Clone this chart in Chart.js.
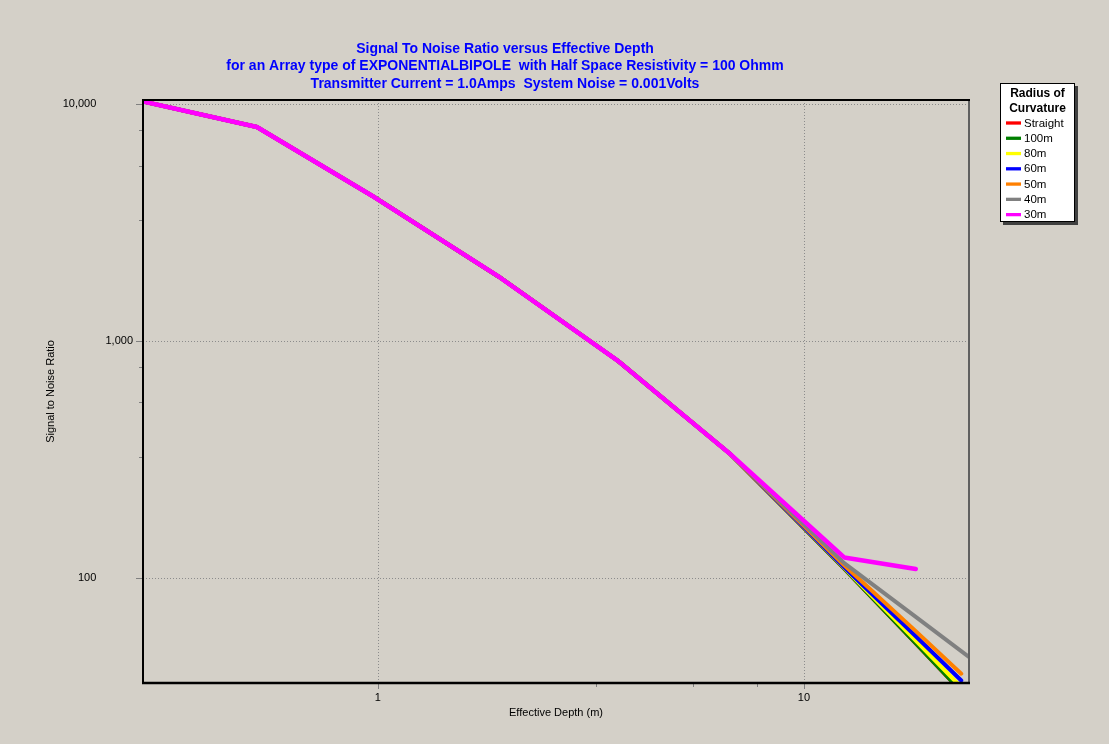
<!DOCTYPE html>
<html>
<head>
<meta charset="utf-8">
<script src="https://cdn.jsdelivr.net/npm/chart.js@4.4.1/dist/chart.umd.min.js"></script>
<style>
html,body{margin:0;padding:0;background:#D4D0C8;}
canvas{display:block;}
</style>
</head>
<body>
<canvas id="c" width="1109" height="744"></canvas>
<script>
// ---- text ----
const titleLines = [
  'Signal To Noise Ratio versus Effective Depth',
  'for an Array type of EXPONENTIALBIPOLE  with Half Space Resistivity = 100 Ohmm',
  'Transmitter Current = 1.0Amps  System Noise = 0.001Volts'
];
const xAxisTitle = 'Effective Depth (m)';
const yAxisTitle = 'Signal to Noise Ratio';
const legendTitle = ['Radius of', 'Curvature'];
const seriesNames = ['Straight', '100m', '80m', '60m', '50m', '40m', '30m'];
const seriesColors = ['#FF0000', '#008000', '#FFFF00', '#0000FF', '#FF8000', '#808080', '#FF00FF'];

// ---- data ----
const depth        = [0.281, 0.52, 0.98, 1.93, 3.66, 6.68, 12.43, 18.3, 23.4];
const depthGray    = [0.281, 0.52, 0.98, 1.93, 3.66, 6.68, 12.43, 18.3, 24.6];
const depthMagenta = [0.281, 0.52, 0.98, 1.93, 3.66, 6.68, 12.43, 18.3];

const snrStraight = [10250, 8000, 4050, 1858, 824, 336, 109.4, 52.9, 33.2];
const snr100m     = [10250, 8000, 4050, 1858, 824, 336, 109.4, 52.9, 33.2];
const snr80m      = [10250, 8000, 4050, 1858, 824, 336, 110.3, 54.4, 34.5];
const snr60m      = [10250, 8000, 4050, 1858, 824, 336, 110.7, 56.7, 36.9];
const snr50m      = [10250, 8000, 4050, 1858, 824, 336, 113.0, 59.6, 39.4];
const snr40m      = [10250, 8000, 4050, 1858, 824, 336, 115.4, 68.4, 45.8];
const snr30m      = [10250, 8000, 4050, 1858, 824, 336, 122.0, 109.0];

// ---- ticks ----
const xMajorTicks = [1, 10];
const xMajorLabels = ['1', '10'];
const xMinorTicks = [3.25, 5.5, 7.75];
const yMajorTicks = [100, 1000, 10000];
const yMajorLabels = ['100', '1,000', '10,000'];
const yMinorTicks = [325, 550, 775, 3250, 5500, 7750];

const FONT = "'Liberation Sans', Arial, sans-serif";

const seriesX = [depth, depth, depth, depth, depth, depthGray, depthMagenta];
const seriesY = [snrStraight, snr100m, snr80m, snr60m, snr50m, snr40m, snr30m];

function pts(xs, ys) { return xs.map((x, i) => ({ x: x, y: ys[i] })); }

const datasets = seriesNames.map((name, i) => ({
  label: name,
  data: pts(seriesX[i], seriesY[i]),
  borderColor: seriesColors[i],
  backgroundColor: seriesColors[i],
  borderWidth: i === 6 ? 4.5 : 4,
  pointRadius: 0,
  pointHoverRadius: 0,
  tension: 0,
  fill: false,
  order: 6 - i,
  clip: 0,
  borderCapStyle: 'round',
  borderJoinStyle: 'round'
}));

const decor = {
  id: 'decor',
  beforeDraw(chart) {
    const ctx = chart.ctx;
    ctx.save();
    ctx.fillStyle = '#D4D0C8';
    ctx.fillRect(0, 0, chart.width, chart.height);
    ctx.restore();
  },
  beforeDatasetsDraw(chart) {
    const ctx = chart.ctx, a = chart.chartArea;
    const xs = chart.scales.x, ys = chart.scales.y;
    ctx.save();
    ctx.strokeStyle = '#8C8C8C';
    ctx.lineWidth = 1;
    ctx.setLineDash([1, 2]);
    xMajorTicks.forEach(v => {
      const px = Math.round(xs.getPixelForValue(v)) + 0.5;
      ctx.beginPath(); ctx.moveTo(px, a.top); ctx.lineTo(px, a.bottom); ctx.stroke();
    });
    yMajorTicks.forEach(v => {
      const py = Math.round(ys.getPixelForValue(v)) + 0.5;
      ctx.beginPath(); ctx.moveTo(a.left, py); ctx.lineTo(a.right, py); ctx.stroke();
    });
    ctx.restore();
  },
  afterDatasetsDraw(chart) {
    const ctx = chart.ctx, a = chart.chartArea;
    const xs = chart.scales.x, ys = chart.scales.y;
    ctx.save();
    // tick marks
    ctx.strokeStyle = '#808080';
    ctx.lineWidth = 1;
    yMajorTicks.forEach(v => {
      const py = Math.round(ys.getPixelForValue(v)) + 0.5;
      ctx.beginPath(); ctx.moveTo(a.left - 7, py); ctx.lineTo(a.left, py); ctx.stroke();
    });
    yMinorTicks.forEach(v => {
      const py = Math.round(ys.getPixelForValue(v)) + 0.5;
      ctx.beginPath(); ctx.moveTo(a.left - 4, py); ctx.lineTo(a.left, py); ctx.stroke();
    });
    xMajorTicks.forEach(v => {
      const px = Math.round(xs.getPixelForValue(v)) + 0.5;
      ctx.beginPath(); ctx.moveTo(px, a.bottom); ctx.lineTo(px, a.bottom + 6); ctx.stroke();
    });
    xMinorTicks.forEach(v => {
      const px = Math.round(xs.getPixelForValue(v)) + 0.5;
      ctx.beginPath(); ctx.moveTo(px, a.bottom); ctx.lineTo(px, a.bottom + 4); ctx.stroke();
    });
    // frame
    ctx.lineWidth = 2;
    ctx.strokeStyle = '#606060';
    ctx.beginPath(); ctx.moveTo(a.right, a.top - 1); ctx.lineTo(a.right, a.bottom + 1); ctx.stroke();
    ctx.strokeStyle = '#000000';
    ctx.beginPath(); ctx.moveTo(a.left - 1, a.top); ctx.lineTo(a.right + 1, a.top); ctx.stroke();
    ctx.beginPath(); ctx.moveTo(a.left, a.top - 1); ctx.lineTo(a.left, a.bottom + 1); ctx.stroke();
    ctx.lineWidth = 2.5;
    ctx.beginPath(); ctx.moveTo(a.left - 1, a.bottom); ctx.lineTo(a.right + 1, a.bottom); ctx.stroke();

    // legend
    const bx = 1000, by = 83, bw = 75, bh = 139;
    ctx.fillStyle = '#404040';
    ctx.fillRect(bx + 3, by + 3, bw, bh);
    ctx.fillStyle = '#FFFFFF';
    ctx.fillRect(bx, by, bw, bh);
    ctx.lineWidth = 1;
    ctx.strokeStyle = '#000000';
    ctx.strokeRect(bx + 0.5, by + 0.5, bw - 1, bh - 1);
    ctx.fillStyle = '#000000';
    ctx.textAlign = 'center';
    ctx.textBaseline = 'middle';
    ctx.font = 'bold 12px ' + FONT;
    legendTitle.forEach((t, i) => ctx.fillText(t, bx + bw / 2, by + 11 + i * 15));
    ctx.font = '11.5px ' + FONT;
    ctx.textAlign = 'left';
    seriesNames.forEach((n, i) => {
      const yy = by + 40 + i * 15.27;
      ctx.strokeStyle = seriesColors[i];
      ctx.lineWidth = 3.3;
      ctx.beginPath(); ctx.moveTo(bx + 6, yy); ctx.lineTo(bx + 21, yy); ctx.stroke();
      ctx.fillStyle = '#000000';
      ctx.fillText(n, bx + 24, yy + 0.5);
    });
    ctx.restore();
  }
};

const yPad = '            ';

new Chart(document.getElementById('c'), {
  type: 'line',
  data: { datasets: datasets },
  options: {
    responsive: false,
    devicePixelRatio: 1,
    animation: false,
    events: [],
    layout: { padding: { left: 41, right: 140, top: 0, bottom: 0 } },
    plugins: {
      legend: { display: false },
      tooltip: { enabled: false },
      title: {
        display: true,
        text: titleLines,
        color: '#0000FF',
        font: { family: FONT, size: 14, weight: 'bold', lineHeight: 1.25 },
        padding: { top: 40, bottom: 7.5 }
      }
    },
    scales: {
      x: {
        type: 'logarithmic',
        min: 0.281,
        max: 24.4,
        afterBuildTicks: (s) => { s.ticks = xMajorTicks.concat(xMinorTicks).sort((a, b) => a - b).map(v => ({ value: v })); },
        afterFit: (s) => { s.height = 61; },
        grid: { display: true, drawOnChartArea: false, drawTicks: false },
        border: { display: false },
        ticks: {
          autoSkip: false, maxRotation: 0, minRotation: 0,
          padding: 8,
          color: '#000000',
          font: { family: FONT, size: 11 },
          callback: (v) => { const i = xMajorTicks.indexOf(v); return i >= 0 ? xMajorLabels[i] : ''; }
        },
        title: {
          display: true, text: xAxisTitle, color: '#000000',
          font: { family: FONT, size: 11 },
          padding: { top: 0, bottom: 24 }
        }
      },
      y: {
        type: 'logarithmic',
        min: 36,
        max: 10400,
        afterBuildTicks: (s) => { s.ticks = yMajorTicks.concat(yMinorTicks).sort((a, b) => a - b).map(v => ({ value: v })); },
        afterFit: (s) => { s.width = 102; },
        grid: { display: true, drawOnChartArea: false, drawTicks: false },
        border: { display: false },
        ticks: {
          autoSkip: false,
          padding: 10,
          color: '#000000',
          font: { family: FONT, size: 11 },
          callback: (v) => {
            const i = yMajorTicks.indexOf(v);
            if (i < 0) return '';
            return yMajorLabels[i] + (v === 1000 ? '' : yPad);
          }
        },
        title: {
          display: true, text: yAxisTitle, color: '#000000',
          font: { family: FONT, size: 11 },
          padding: { top: 3, bottom: 0 }
        }
      }
    }
  },
  plugins: [decor]
});
</script>
</body>
</html>
